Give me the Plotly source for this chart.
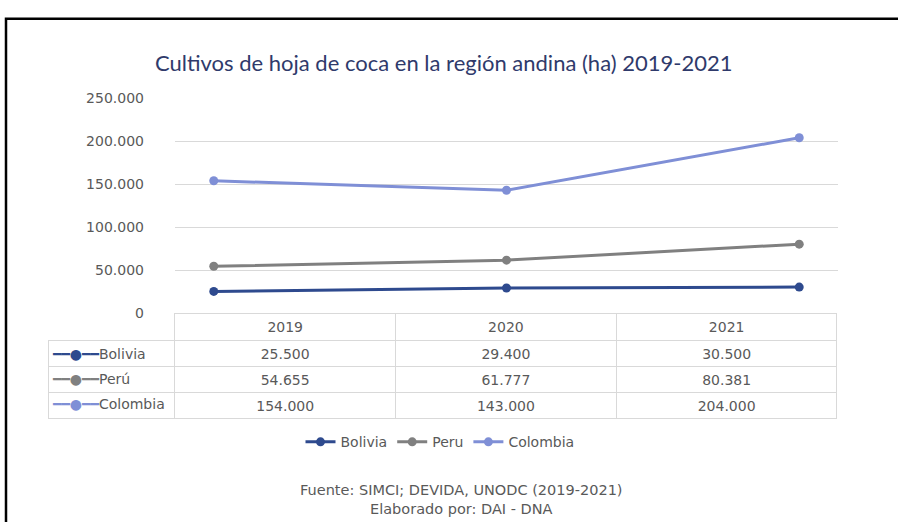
import plotly.graph_objects as go

years = ["2019", "2020", "2021"]
series_names = ["Bolivia", "Perú", "Colombia"]
legend_names = ["Bolivia", "Peru", "Colombia"]
bolivia = [25500, 29400, 30500]
peru = [54655, 61777, 80381]
colombia = [154000, 143000, 204000]
y_ticks = [0, 50000, 100000, 150000, 200000, 250000]

values = [bolivia, peru, colombia]
colors = ["#2E4A8E", "#808080", "#7F8FD6"]

W, H = 898, 522
TXT = "#595959"
FONT_NUM = "DejaVu Sans"


def fmt(v):
    return f"{v:,}".replace(",", ".")


fig = go.Figure()
for name, lname, vals, col in zip(series_names, legend_names, values, colors):
    fig.add_trace(go.Scatter(
        x=years, y=vals, name=lname, mode="lines+markers",
        line=dict(color=col, width=3),
        marker=dict(color=col, size=9),
    ))

# row labels (legend key + series name) in the table's first column
row_labels = [f"<span style='color:{c}'>━━●━━</span>{n}" for n, c in zip(series_names, colors)]
fig.add_trace(go.Scatter(
    x=["key"] * len(series_names), y=series_names, mode="text",
    text=row_labels, textposition="middle right",
    textfont=dict(family=FONT_NUM, size=14, color=TXT),
    xaxis="x2", yaxis="y2", showlegend=False, hoverinfo="skip",
    cliponaxis=False,
))

# data table below the chart
cols = [[""] * len(series_names)] + [[fmt(v[i]) for v in values] for i in range(len(years))]
fig.add_trace(go.Table(
    domain=dict(x=[48 / W, 838 / W], y=[0, 1 - 315 / H]),
    columnwidth=[127, 221, 221, 221],
    header=dict(
        values=[""] + years,
        height=27,
        align="center",
        fill_color="rgba(0,0,0,0)",
        line=dict(color=["rgba(0,0,0,0)", "#D9D9D9", "#D9D9D9", "#D9D9D9"], width=1),
        font=dict(family=FONT_NUM, size=14, color=TXT),
    ),
    cells=dict(
        values=cols,
        height=26,
        align=["left", "center", "center", "center"],
        fill_color="rgba(0,0,0,0)",
        line=dict(color="#D9D9D9", width=1),
        font=dict(family=FONT_NUM, size=14, color=TXT),
    ),
))

fig.update_layout(
    width=W, height=H,
    margin=dict(l=0, r=0, t=0, b=0),
    paper_bgcolor="white", plot_bgcolor="white",
    separators=",.",
    showlegend=True,
    legend=dict(
        orientation="h", x=440 / W, xanchor="center", y=1 - 448 / H, yanchor="middle",
        font=dict(family=FONT_NUM, size=14, color=TXT),
        itemwidth=30,
    ),
    xaxis=dict(
        domain=[175 / W, 838 / W], type="category",
        showticklabels=False, showgrid=False, zeroline=False, showline=False,
    ),
    yaxis=dict(
        domain=[1 - 315 / H, 1 - 93 / H], range=[0, 250000],
        tickvals=y_ticks, tickformat=",d",
        showgrid=True, gridcolor="#D9D9D9", gridwidth=1,
        zeroline=False, showline=False,
        tickfont=dict(family=FONT_NUM, size=14, color=TXT),
        ticklabelstandoff=30,
    ),
    xaxis2=dict(
        domain=[44 / W, 62 / W], type="category", range=[-0.5, 0.5],
        visible=False,
    ),
    yaxis2=dict(
        domain=[1 - 423 / H, 1 - 345 / H], type="category",
        categoryorder="array", categoryarray=series_names,
        range=[2.5, -0.5], visible=False,
    ),
    shapes=[dict(
        type="rect", xref="paper", yref="paper",
        x0=6 / W, x1=1.02, y0=-0.02, y1=1 - 11 / H,
        line=dict(color="black", width=2.5), fillcolor="rgba(0,0,0,0)",
    )],
    annotations=[
        dict(text="Cultivos de hoja de coca en la región andina (ha) 2019-2021",
             x=443 / W, y=1 - 56 / H, xref="paper", yref="paper",
             xanchor="center", yanchor="middle", showarrow=False,
             font=dict(family="Lato", size=22, color="#2F3A6B")),
        dict(text="Fuente: SIMCI; DEVIDA, UNODC (2019-2021)<br>Elaborado por: DAI - DNA",
             x=462 / W, y=1 - 507 / H, xref="paper", yref="paper",
             xanchor="center", yanchor="middle", showarrow=False,
             font=dict(family=FONT_NUM, size=14.5, color=TXT)),
    ],
)

fig.write_html(
    "out.html",
    config={"displayModeBar": False},
    post_script="document.body.style.margin='0';document.body.style.overflow='hidden';",
)
